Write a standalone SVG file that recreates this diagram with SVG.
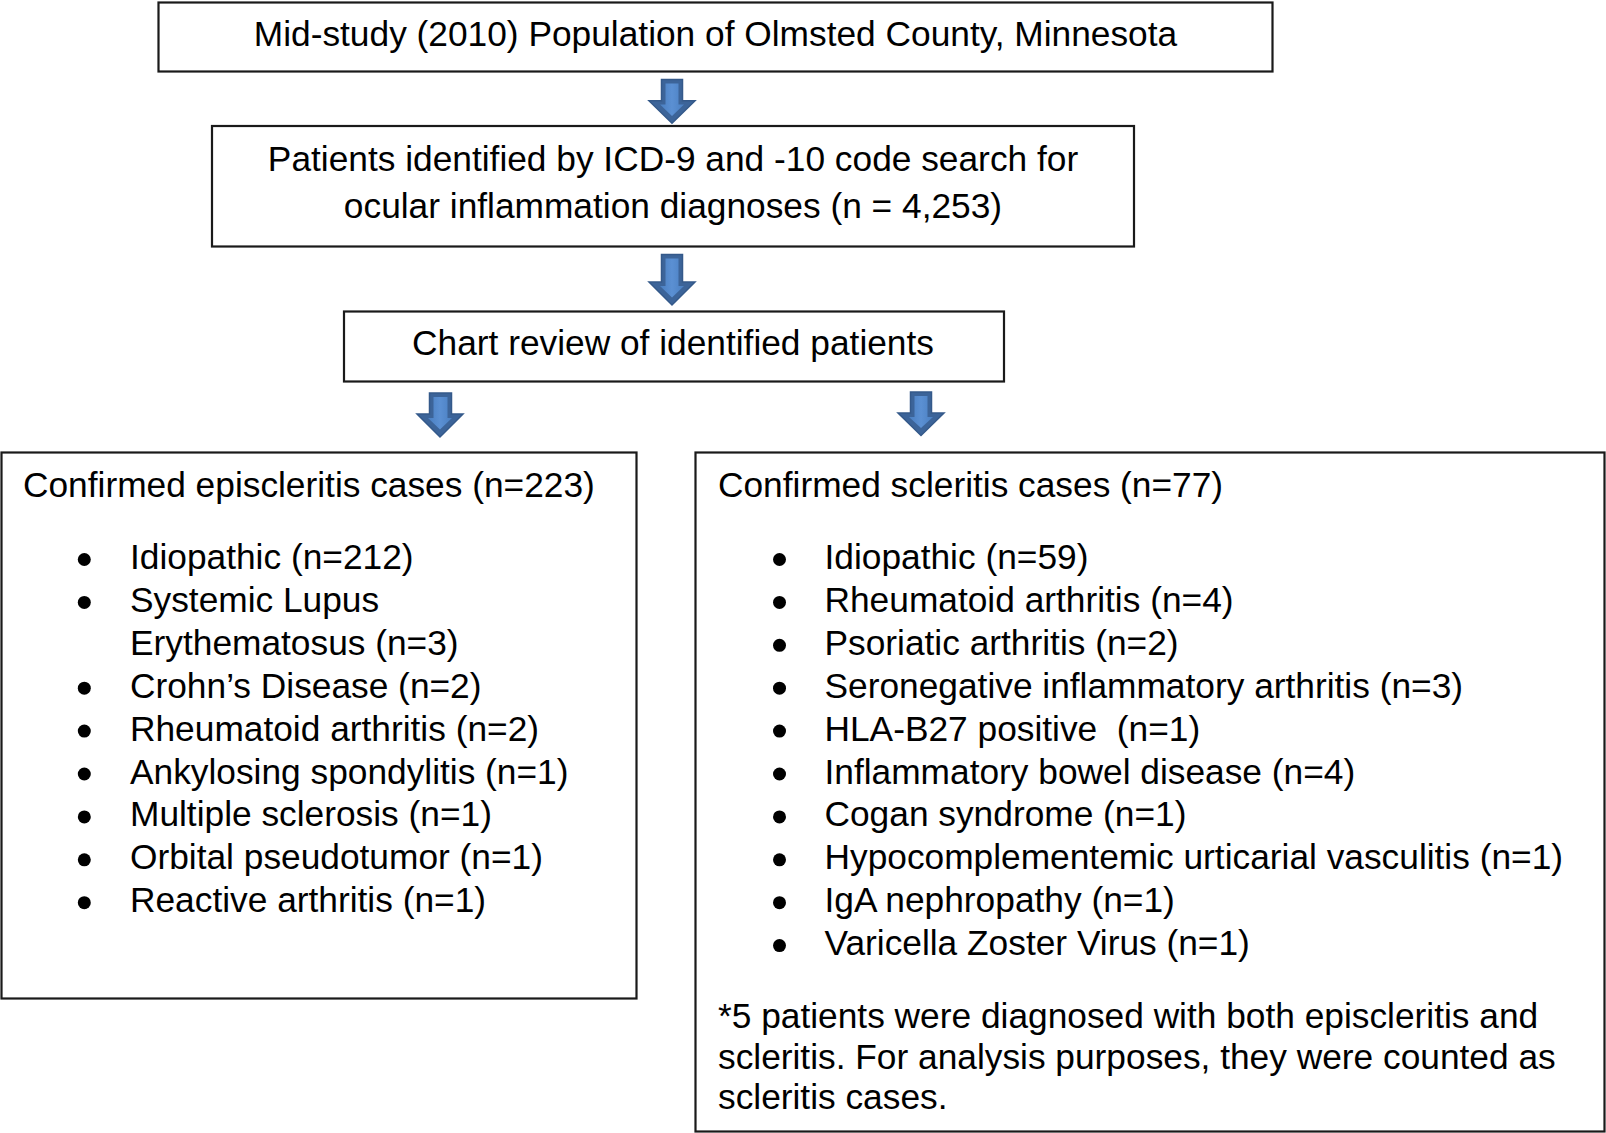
<svg xmlns="http://www.w3.org/2000/svg" width="1606" height="1133" viewBox="0 0 1606 1133">
<defs>
<linearGradient id="ag" x1="0" y1="0" x2="1" y2="0">
<stop offset="0" stop-color="#4a7fc1"/>
<stop offset="0.5" stop-color="#5b90d3"/>
<stop offset="1" stop-color="#4a7fc1"/>
</linearGradient>
</defs>
<style>
.box{fill:#fff;stroke:#1a1a1a;stroke-width:2.2}
text{font-family:"Liberation Sans",Arial,Helvetica,sans-serif;font-size:35.3px;fill:#000}
.c{text-anchor:middle}
.dot{fill:#000}
.ao{fill:#3c6499;stroke:#34598a;stroke-width:1.5;stroke-linejoin:miter}
.ai{fill:url(#ag)}
</style>
<rect width="1606" height="1133" fill="#fff"/>
<g id="connectors">
<g id="arrow1">
<path class="ao" d="M661.5,79.5 H682.5 V100.7 H695 L672,123.3 L649,100.7 H661.5 Z"/>
<path class="ai" d="M665.5,83.5 H678.5 V104.5 H684 L672,116 L660,104.5 H665.5 Z"/>
</g>
<g id="arrow2">
<path class="ao" d="M661.5,254.5 H682.5 V282 H695 L672,305 L649,282 H661.5 Z"/>
<path class="ai" d="M665.5,258.5 H678.5 V286 H684 L672,297.5 L660,286 H665.5 Z"/>
</g>
<g id="arrow3">
<path class="ao" d="M429.5,393 H451.5 V414 H463 L440,437 L417,414 H429.5 Z"/>
<path class="ai" d="M433.5,397 H447.5 V418 H452 L440,429.5 L428,418 H433.5 Z"/>
</g>
<g id="arrow4">
<path class="ao" d="M910.5,392 H931.5 V413 H944 L921,435.5 L898,413 H910.5 Z"/>
<path class="ai" d="M914.5,396 H927.5 V417 H933 L921,428 L909,417 H914.5 Z"/>
</g>
</g>
<g id="node-population">
<rect class="box" x="158.5" y="2.5" width="1114" height="69"/>
<text class="c" x="715.5" y="46">Mid-study (2010) Population of Olmsted County, Minnesota</text>
</g>
<g id="node-identified">
<rect class="box" x="212" y="126" width="922" height="120.5"/>
<text class="c" x="673" y="171">Patients identified by ICD-9 and -10 code search for</text>
<text class="c" x="673" y="218">ocular inflammation diagnoses (n = 4,253)</text>
</g>
<g id="node-chart-review">
<rect class="box" x="344" y="311.5" width="660" height="70"/>
<text class="c" x="673" y="355">Chart review of identified patients</text>
</g>
<g id="node-episcleritis">
<rect class="box" x="1.5" y="452.5" width="635" height="546"/>
<text x="23" y="497">Confirmed episcleritis cases (n=223)</text>
<g class="dot">
<circle cx="84.3" cy="559.5" r="6.5"/>
<circle cx="84.3" cy="602.4" r="6.5"/>
<circle cx="84.3" cy="688.2" r="6.5"/>
<circle cx="84.3" cy="731.1" r="6.5"/>
<circle cx="84.3" cy="774" r="6.5"/>
<circle cx="84.3" cy="816.9" r="6.5"/>
<circle cx="84.3" cy="859.8" r="6.5"/>
<circle cx="84.3" cy="902.7" r="6.5"/>
</g>
<text x="130" y="569">Idiopathic (n=212)</text>
<text x="130" y="611.9">Systemic Lupus</text>
<text x="130" y="654.8">Erythematosus (n=3)</text>
<text x="130" y="697.7">Crohn’s Disease (n=2)</text>
<text x="130" y="740.6">Rheumatoid arthritis (n=2)</text>
<text x="130" y="783.5">Ankylosing spondylitis (n=1)</text>
<text x="130" y="826.4">Multiple sclerosis (n=1)</text>
<text x="130" y="869.3">Orbital pseudotumor (n=1)</text>
<text x="130" y="912.2">Reactive arthritis (n=1)</text>
</g>
<g id="node-scleritis">
<rect class="box" x="695.5" y="452.5" width="909" height="679"/>
<text x="718" y="497">Confirmed scleritis cases (n=77)</text>
<g class="dot">
<circle cx="779.5" cy="559.5" r="6.5"/>
<circle cx="779.5" cy="602.4" r="6.5"/>
<circle cx="779.5" cy="645.3" r="6.5"/>
<circle cx="779.5" cy="688.2" r="6.5"/>
<circle cx="779.5" cy="731.1" r="6.5"/>
<circle cx="779.5" cy="774" r="6.5"/>
<circle cx="779.5" cy="816.9" r="6.5"/>
<circle cx="779.5" cy="859.8" r="6.5"/>
<circle cx="779.5" cy="902.7" r="6.5"/>
<circle cx="779.5" cy="945.6" r="6.5"/>
</g>
<text x="824.5" y="569">Idiopathic (n=59)</text>
<text x="824.5" y="611.9">Rheumatoid arthritis (n=4)</text>
<text x="824.5" y="654.8">Psoriatic arthritis (n=2)</text>
<text x="824.5" y="697.7">Seronegative inflammatory arthritis (n=3)</text>
<text x="824.5" y="740.6" xml:space="preserve">HLA-B27 positive  (n=1)</text>
<text x="824.5" y="783.5">Inflammatory bowel disease (n=4)</text>
<text x="824.5" y="826.4">Cogan syndrome (n=1)</text>
<text x="824.5" y="869.3">Hypocomplementemic urticarial vasculitis (n=1)</text>
<text x="824.5" y="912.2">IgA nephropathy (n=1)</text>
<text x="824.5" y="955.1">Varicella Zoster Virus (n=1)</text>
<text x="718" y="1028">*5 patients were diagnosed with both episcleritis and</text>
<text x="718" y="1068.5">scleritis. For analysis purposes, they were counted as</text>
<text x="718" y="1109">scleritis cases.</text>
</g>
</svg>
